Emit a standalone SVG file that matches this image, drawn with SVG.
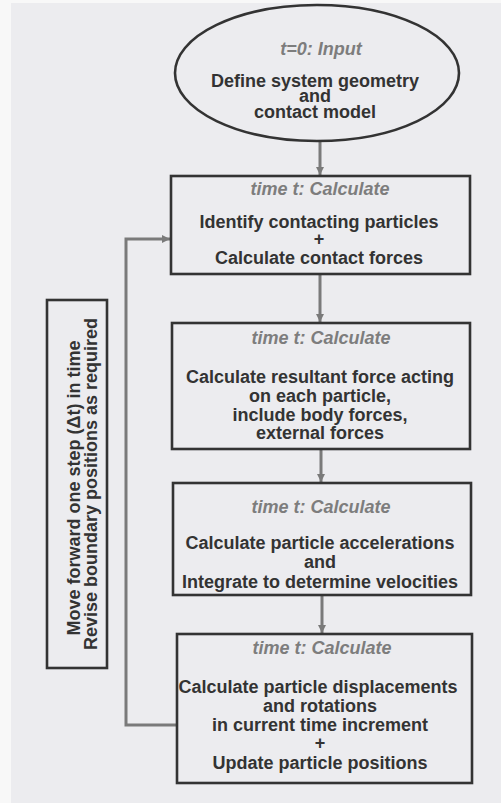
<svg xmlns="http://www.w3.org/2000/svg" width="501" height="803" viewBox="0 0 501 803">
<style>
.bg{fill:#ececef}
.node{fill:none;stroke:#333;stroke-width:2.6}
.t{font-family:"Liberation Sans",Arial,sans-serif;font-size:18px;font-weight:bold;fill:#333;text-anchor:middle}
.h{font-family:"Liberation Sans",Arial,sans-serif;font-size:18px;font-weight:bold;font-style:italic;fill:#7d7d7d;text-anchor:middle}
.c{fill:none;stroke:#7a7a7a;stroke-width:3}
</style>
<defs>
<marker id="ah" viewBox="0 0 10 10" refX="10" refY="5" markerWidth="2.8" markerHeight="2.8" orient="auto" markerUnits="strokeWidth">
<path d="M0,0 L10,5 L0,10 z" fill="#7a7a7a"/>
</marker>
</defs>
<rect x="0" y="0" width="501" height="803" fill="#f8f8f8"/>
<rect class="bg" x="11" y="3" width="490" height="800"/>

<g id="connectors">
<line class="c" x1="320" y1="142" x2="320" y2="175" marker-end="url(#ah)"/>
<line class="c" x1="320" y1="275" x2="320" y2="322" marker-end="url(#ah)"/>
<line class="c" x1="321" y1="450" x2="321" y2="482" marker-end="url(#ah)"/>
<line class="c" x1="322" y1="596" x2="322" y2="633" marker-end="url(#ah)"/>
<path class="c" d="M177,725 H126 V239 H170" marker-end="url(#ah)"/>
</g>

<g id="input">
<ellipse class="node" cx="317" cy="73" rx="142" ry="68" stroke-width="3"/>
<text class="h" x="321" y="55">t=0: Input</text>
<text class="t" x="315" y="87">Define system geometry</text>
<text class="t" x="315" y="102">and</text>
<text class="t" x="315" y="118">contact model</text>
</g>

<g id="contact">
<rect class="node" x="171" y="176" width="299" height="98"/>
<text class="h" x="320" y="195">time t: Calculate</text>
<text class="t" x="319" y="228">Identify contacting particles</text>
<text class="t" x="319" y="245">+</text>
<text class="t" x="319" y="264">Calculate contact forces</text>
</g>

<g id="resultant">
<rect class="node" x="172" y="323" width="298" height="126"/>
<text class="h" x="321" y="344">time t: Calculate</text>
<text class="t" x="320" y="383">Calculate resultant force acting</text>
<text class="t" x="320" y="402">on each particle,</text>
<text class="t" x="320" y="421">include body forces,</text>
<text class="t" x="320" y="439">external forces</text>
</g>

<g id="accel">
<rect class="node" x="173" y="483" width="298" height="112"/>
<text class="h" x="321" y="513">time t: Calculate</text>
<text class="t" x="320" y="549">Calculate particle accelerations</text>
<text class="t" x="320" y="568">and</text>
<text class="t" x="320" y="588">Integrate to determine velocities</text>
</g>

<g id="update">
<rect class="node" x="177" y="634" width="295" height="149"/>
<text class="h" x="322" y="654">time t: Calculate</text>
<text class="t" x="318" y="693">Calculate particle displacements</text>
<text class="t" x="320" y="712">and rotations</text>
<text class="t" x="320" y="731">in current time increment</text>
<text class="t" x="320" y="749">+</text>
<text class="t" x="320" y="769">Update particle positions</text>
</g>

<g id="timestep">
<rect class="node" x="47" y="300" width="60" height="368"/>
<text class="t" transform="translate(80,488) rotate(-90)">Move forward one step (Δt) in time</text>
<text class="t" transform="translate(97,484) rotate(-90)">Revise boundary positions as required</text>
</g>
</svg>
